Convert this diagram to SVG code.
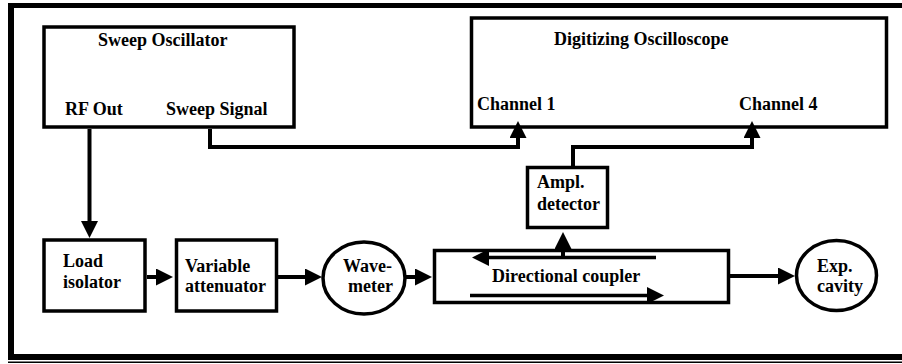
<svg xmlns="http://www.w3.org/2000/svg" width="902" height="364" viewBox="0 0 902 364">
<style>
.box{fill:#fff;stroke:#000;stroke-width:3.5}
.t{font-family:"Liberation Serif","Times New Roman",serif;font-weight:bold;font-size:18px;fill:#000}
.c{fill:none;stroke:#000;stroke-width:4;marker-end:url(#ah)}
.ci{fill:none;stroke:#000;stroke-width:3.5;marker-end:url(#ah)}
</style>
<defs>
<marker id="ah" markerUnits="userSpaceOnUse" viewBox="0 0 17 17" markerWidth="17" markerHeight="17" refX="3" refY="8.5" orient="auto">
<path d="M0,0 L17,8.5 L0,17 z" fill="#000"/>
</marker>
</defs>
<rect width="902" height="364" fill="#fff"/>
<g id="frame">
<rect x="8" y="3" width="894" height="5" fill="#000"/>
<rect x="8" y="3" width="6" height="357" fill="#000"/>
<rect x="8" y="354" width="894" height="6" fill="#000"/>
<rect x="8" y="361.5" width="894" height="1.5" fill="#000"/>
</g>
<g id="sweep-oscillator">
<rect class="box" x="44" y="27" width="250" height="100"/>
<text class="t" x="98" y="46">Sweep Oscillator</text>
<text class="t" x="65" y="115">RF Out</text>
<text class="t" x="166" y="115">Sweep Signal</text>
</g>
<g id="digitizing-oscilloscope">
<rect class="box" x="471.5" y="18" width="415" height="109"/>
<text class="t" x="554" y="45">Digitizing Oscilloscope</text>
<text class="t" x="477" y="110">Channel 1</text>
<text class="t" x="739" y="110">Channel 4</text>
</g>
<g id="ampl-detector">
<rect class="box" x="527.5" y="167.5" width="80" height="60"/>
<text class="t" x="537" y="188">Ampl.</text>
<text class="t" x="537" y="210">detector</text>
</g>
<g id="load-isolator">
<rect class="box" x="44" y="240" width="101" height="71"/>
<text class="t" x="63" y="267">Load</text>
<text class="t" x="63" y="288">isolator</text>
</g>
<g id="variable-attenuator">
<rect class="box" x="176.5" y="240" width="100" height="71"/>
<text class="t" x="185" y="272">Variable</text>
<text class="t" x="185" y="292">attenuator</text>
</g>
<g id="wavemeter">
<ellipse class="box" cx="364" cy="278" rx="41" ry="36"/>
<text class="t" x="343" y="272">Wave-</text>
<text class="t" x="348" y="292">meter</text>
</g>
<g id="directional-coupler">
<rect class="box" x="434.5" y="250.5" width="294" height="52"/>
<path class="ci" d="M656,257.5 H486"/>
<path class="ci" d="M470,295.5 H650"/>
<text class="t" x="492" y="282">Directional coupler</text>
</g>
<g id="exp-cavity">
<ellipse class="box" cx="836.5" cy="275.5" rx="40" ry="35"/>
<text class="t" x="817" y="272">Exp.</text>
<text class="t" x="817" y="292">cavity</text>
</g>
<g id="connectors">
<path class="c" d="M89.5,129 V224"/>
<path class="c" d="M210,129 V147 H518 V135"/>
<path class="c" d="M573,166 V147 H752 V135"/>
<path class="c" d="M147,277 H159"/>
<path class="c" d="M278,277 H308"/>
<path class="c" d="M406,277 H418"/>
<path class="c" d="M730,276 H781"/>
<path class="c" d="M563,257 V246"/>
</g>
</svg>
